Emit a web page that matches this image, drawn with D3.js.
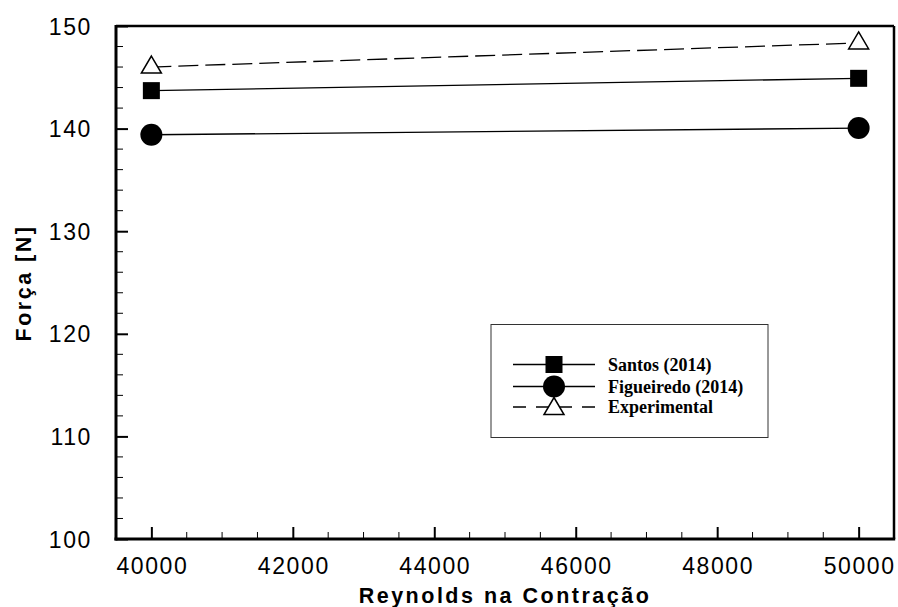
<!DOCTYPE html>
<html>
<head>
<meta charset="utf-8">
<script src="https://cdn.jsdelivr.net/npm/d3@7"></script>
<style>
  html, body { margin: 0; padding: 0; background: #fff; }
  svg { display: block; }
</style>
</head>
<body>
<svg id="chart" width="898" height="607"></svg>
<script>
const reynolds = [40000, 50000];
const santos = [143.7, 144.9];
const figueiredo = [139.4, 140.05];
const experimental = [146.0, 148.35];
const seriesNames = ["Santos (2014)", "Figueiredo (2014)", "Experimental"];
const xTicks = [40000, 42000, 44000, 46000, 48000, 50000];
const yTicks = [100, 110, 120, 130, 140, 150];
const xTitle = "Reynolds na Contração";
const yTitle = "Força [N]";

const svg = d3.select("#chart");
const L = 116, R = 894, T = 26, B = 539;

const x = d3.scaleLinear().domain([39500, 50500]).range([L, R]);
const y = d3.scaleLinear().domain([100, 150]).range([B, T]);

const font = "'Liberation Sans', Arial, sans-serif";
const serif = "'Liberation Serif', 'Times New Roman', serif";

// minor ticks
const xMinor = d3.range(40000, 50001, 500).filter(v => !xTicks.includes(v));
const yMinor = d3.range(100, 151, 2).filter(v => !yTicks.includes(v));

svg.append("g").selectAll("line").data(xMinor).join("line")
  .attr("x1", d => x(d)).attr("x2", d => x(d))
  .attr("y1", B).attr("y2", B - 7)
  .attr("stroke", "#000").attr("stroke-width", 1);
svg.append("g").selectAll("line").data(yMinor).join("line")
  .attr("y1", d => y(d)).attr("y2", d => y(d))
  .attr("x1", L).attr("x2", L + 7)
  .attr("stroke", "#000").attr("stroke-width", 1);

// major ticks via axes
const xAxis = svg.append("g").attr("transform", `translate(0,${B})`)
  .call(d3.axisTop(x).tickValues(xTicks).tickSize(12).tickFormat(""));
xAxis.select(".domain").remove();
xAxis.selectAll(".tick line").attr("stroke-width", 2);

const yAxis = svg.append("g").attr("transform", `translate(${L},0)`)
  .call(d3.axisRight(y).tickValues(yTicks).tickSize(12).tickFormat(""));
yAxis.select(".domain").remove();
yAxis.selectAll(".tick line").attr("stroke-width", 2);

// tick labels
svg.append("g").selectAll("text").data(xTicks).join("text")
  .attr("x", d => x(d) + 1).attr("y", 574)
  .attr("text-anchor", "middle")
  .attr("font-family", font).attr("font-size", 23)
  .attr("letter-spacing", "1.6px")
  .text(d => d);
svg.append("g").selectAll("text").data(yTicks).join("text")
  .attr("x", 92).attr("y", d => y(d) + 8.5)
  .attr("text-anchor", "end")
  .attr("font-family", font).attr("font-size", 23)
  .attr("letter-spacing", "1.6px")
  .text(d => d);

// frame
svg.append("line").attr("x1", L).attr("x2", R).attr("y1", T).attr("y2", T)
  .attr("stroke", "#000").attr("stroke-width", 2.5);
svg.append("line").attr("x1", R).attr("x2", R).attr("y1", T).attr("y2", B)
  .attr("stroke", "#000").attr("stroke-width", 2.5);
svg.append("line").attr("x1", L).attr("x2", L).attr("y1", T - 1).attr("y2", B + 1.5)
  .attr("stroke", "#000").attr("stroke-width", 3);
svg.append("line").attr("x1", L - 1.5).attr("x2", R + 1.2).attr("y1", B).attr("y2", B)
  .attr("stroke", "#000").attr("stroke-width", 3);

// axis titles
svg.append("text").attr("x", 505).attr("y", 603)
  .attr("text-anchor", "middle")
  .attr("font-family", font).attr("font-weight", "bold").attr("font-size", 21.5)
  .attr("letter-spacing", "2.5px")
  .text(xTitle);
svg.append("text")
  .attr("transform", "translate(31,283) rotate(-90)")
  .attr("text-anchor", "middle")
  .attr("font-family", font).attr("font-weight", "bold").attr("font-size", 21.5)
  .attr("letter-spacing", "2.5px")
  .text(yTitle);

// series
const line = d3.line().x(d => x(d[0])).y(d => y(d[1]));
const pts = arr => reynolds.map((r, i) => [r, arr[i]]);

const series = [
  { name: seriesNames[0], values: santos, dash: null, marker: "square" },
  { name: seriesNames[1], values: figueiredo, dash: null, marker: "circle" },
  { name: seriesNames[2], values: experimental, dash: "20,7", marker: "triangle" }
];

function drawMarker(g, type, cx, cy) {
  if (type === "square") {
    g.append("rect").attr("x", cx - 8.5).attr("y", cy - 8.5)
      .attr("width", 17).attr("height", 17).attr("fill", "#000");
  } else if (type === "circle") {
    g.append("circle").attr("cx", cx).attr("cy", cy).attr("r", 11).attr("fill", "#000");
  } else {
    g.append("path")
      .attr("d", `M${cx},${cy - 11} L${cx + 10},${cy + 6} L${cx - 10},${cy + 6} Z`)
      .attr("fill", "#fff").attr("stroke", "#000").attr("stroke-width", 1.5);
  }
}

series.forEach(s => {
  svg.append("path").datum(pts(s.values))
    .attr("d", line).attr("fill", "none")
    .attr("stroke", "#000").attr("stroke-width", 1.3)
    .attr("stroke-dasharray", s.dash);
});
series.forEach(s => {
  const g = svg.append("g");
  pts(s.values).forEach(p => drawMarker(g, s.marker, x(p[0]), y(p[1])));
});

// legend
const lg = svg.append("g");
lg.append("rect").attr("x", 491).attr("y", 324.5).attr("width", 277).attr("height", 113)
  .attr("fill", "#fff").attr("stroke", "#333").attr("stroke-width", 1);
const rowY = [364.5, 386.5, 407];
series.forEach((s, i) => {
  lg.append("line").attr("x1", 513).attr("x2", 595)
    .attr("y1", rowY[i]).attr("y2", rowY[i])
    .attr("stroke", "#000").attr("stroke-width", 1.3)
    .attr("stroke-dasharray", s.dash ? "13,10" : null);
  drawMarker(lg, s.marker, 554, s.marker === "triangle" ? rowY[i] + 1.5 : rowY[i]);
  lg.append("text").attr("x", 608).attr("y", rowY[i] + 6)
    .attr("font-family", serif).attr("font-weight", "bold").attr("font-size", 18)
    .text(s.name);
});
</script>
</body>
</html>
